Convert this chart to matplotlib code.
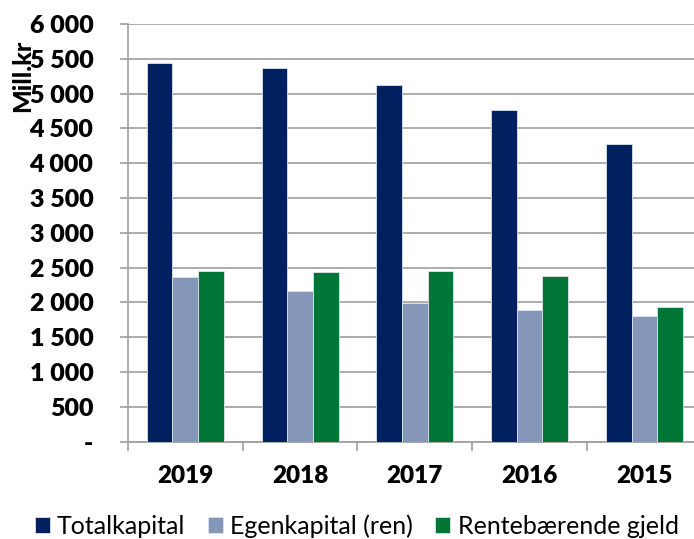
import matplotlib
matplotlib.use("Agg")
import matplotlib.pyplot as plt
import numpy as np
from matplotlib.ticker import FuncFormatter, FixedLocator

plt.rcParams['font.family'] = ['Lato', 'DejaVu Sans']

# data (Mill.kr)
years = ['2019', '2018', '2017', '2016', '2015']
totalkapital = [5436, 5364, 5119, 4760, 4280]
egenkapital = [2361, 2165, 1997, 1887, 1801]
rentebaerende = [2456, 2433, 2447, 2376, 1930]
series_names = ['Totalkapital', 'Egenkapital (ren)', 'Rentebærende gjeld']
colors = ['#002060', '#8497B8', '#007636']

fig = plt.figure(figsize=(6.94, 5.39), dpi=100)
ax = fig.add_axes([0.1844, 0.1805, 0.8156, 0.775])

x = np.arange(len(years))
w = 0.224
for i, (vals, name, c) in enumerate(zip([totalkapital, egenkapital, rentebaerende], series_names, colors)):
    ax.bar(x + (i - 1) * w, vals, width=w, color=c, edgecolor='#dde3ee', linewidth=0.6,
           label=name, zorder=3)

ax.set_xlim(-0.5, -0.5 + 566 / 114.75)
ax.set_ylim(0, 6000)
ax.set_yticks(np.arange(0, 6001, 500))
ax.yaxis.set_major_formatter(FuncFormatter(lambda v, p: '-' if v == 0 else f'{int(v):,}'.replace(',', ' ')))
ax.grid(axis='y', color='#a6a6a6', linewidth=1.3, zorder=0)

ax.set_xticks(x)
ax.set_xticklabels(years)
ax.xaxis.set_minor_locator(FixedLocator(np.arange(-0.5, len(years), 1.0)))
ax.tick_params(axis='x', which='major', length=0, pad=17, labelsize=17.5)
ax.tick_params(axis='x', which='minor', length=6.5, color='#a0a0a0', width=1.2)
ax.tick_params(axis='y', length=6, color='#a6a6a6', width=1.3, pad=19, labelsize=18)
for lab in ax.get_xticklabels() + ax.get_yticklabels():
    lab.set_fontweight('heavy')

for s in ['top', 'right']:
    ax.spines[s].set_visible(False)
ax.spines['left'].set_color('#a0a0a0')
ax.spines['left'].set_linewidth(1.2)
ax.spines['bottom'].set_color('#a0a0a0')
ax.spines['bottom'].set_linewidth(1.3)

fig.text(0.032, 0.859, 'Mill.kr', rotation=90, ha='center', va='center',
         fontsize=18, fontweight='black')

fig.legend(loc='lower center', bbox_to_anchor=(0.514, -0.03), ncol=3, frameon=False,
           fontsize=18, handlelength=0.6, handleheight=0.6, handletextpad=0.29,
           columnspacing=0.9, borderpad=0.2)

fig.savefig('out.png', dpi=100)
